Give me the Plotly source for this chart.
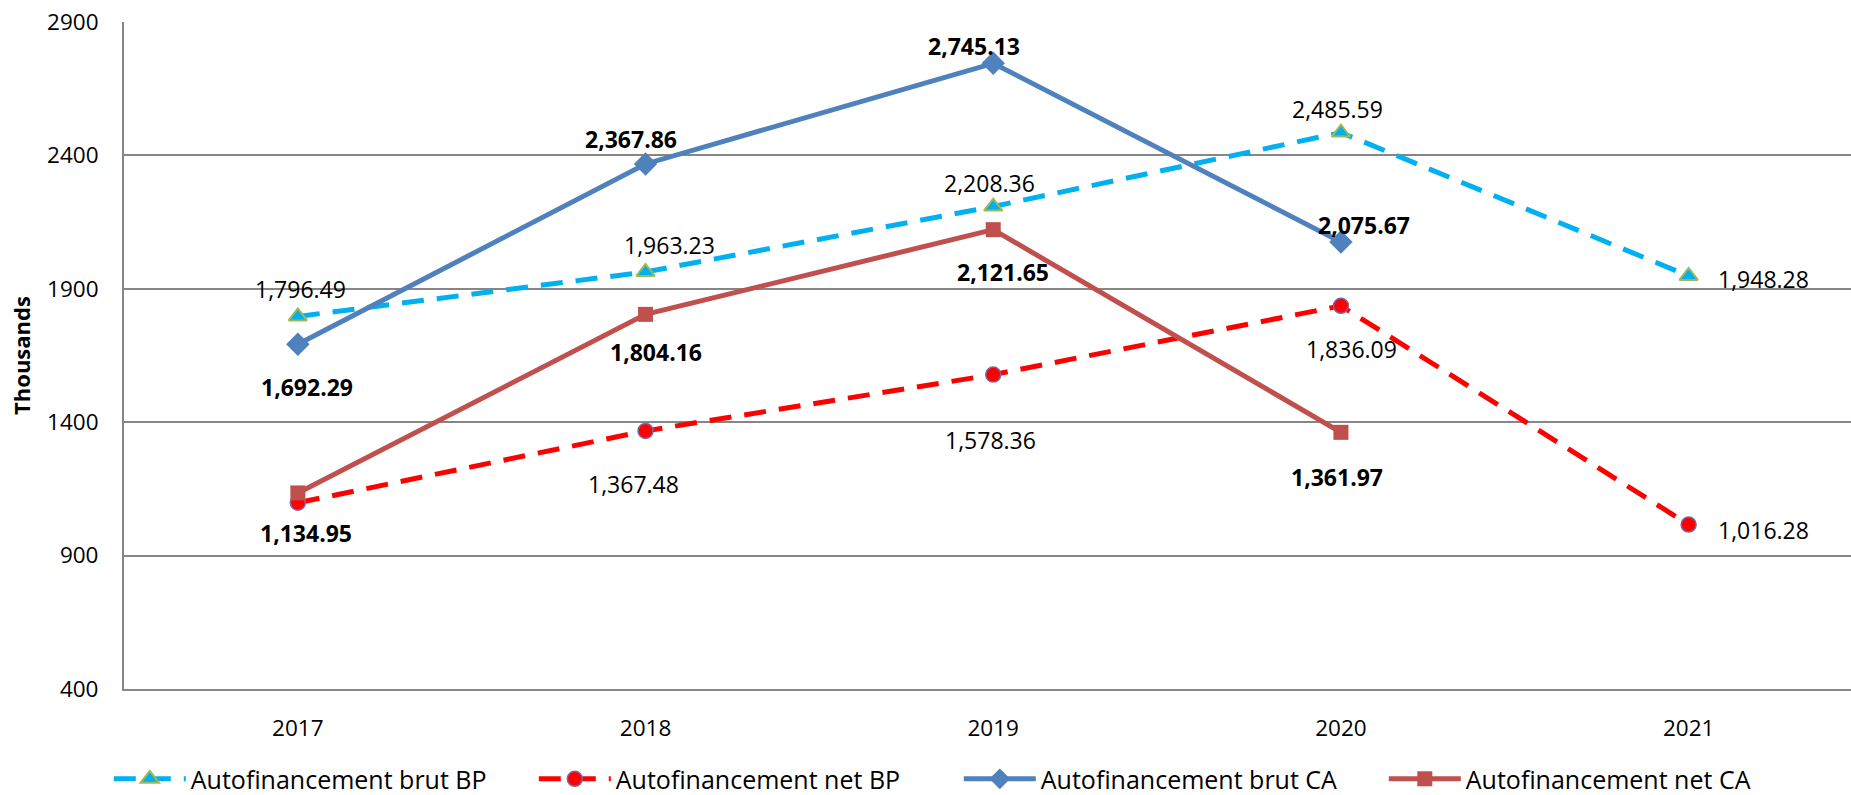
import plotly.graph_objects as go

years = ["2017", "2018", "2019", "2020", "2021"]
brut_bp = [1796.49, 1963.23, 2208.36, 2485.59, 1948.28]
net_bp = [1098.0, 1367.48, 1578.36, 1836.09, 1016.28]
brut_ca = [1692.29, 2367.86, 2745.13, 2075.67]
net_ca = [1134.95, 1804.16, 2121.65, 1361.97]
y_ticks = [400, 900, 1400, 1900, 2400, 2900]

names = ["Autofinancement brut BP", "Autofinancement net BP",
         "Autofinancement brut CA", "Autofinancement net CA"]

FONT = "Open Sans"

fig = go.Figure()
fig.add_trace(go.Scatter(
    x=years, y=brut_bp, name=names[0], mode="lines+markers",
    line=dict(color="#00B0F0", width=5, dash="22px,13px"),
    marker=dict(symbol="triangle-up", size=16, color="#00B0F0",
                line=dict(color="#9BBB59", width=2))))
fig.add_trace(go.Scatter(
    x=years, y=net_bp, name=names[1], mode="lines+markers",
    line=dict(color="#FF0000", width=5, dash="22px,13px"),
    marker=dict(symbol="circle", size=15, color="#FF0000",
                line=dict(color="#8064A2", width=1.5))))
fig.add_trace(go.Scatter(
    x=years[:4], y=brut_ca, name=names[2], mode="lines+markers",
    line=dict(color="#4F81BD", width=5),
    marker=dict(symbol="diamond", size=18, color="#4F81BD")))
fig.add_trace(go.Scatter(
    x=years[:4], y=net_ca, name=names[3], mode="lines+markers",
    line=dict(color="#C0504D", width=5),
    marker=dict(symbol="square", size=15, color="#C0504D")))

# label placement offsets (xshift, yshift, xanchor) per point
offs_brut_bp = [(3, 27, "center"), (24, 27, "center"), (-4, 24, "center"),
                (-3, 24, "center"), (27, -3, "left")]
offs_net_bp = [None, (-12, -53, "center"), (-3, -65, "center"),
               (11, -43, "center"), (27, -5, "left")]
offs_brut_ca = [(9, -43, "center"), (-15, 25, "center"), (-19, 17, "center"),
                (23, 17, "center")]
offs_net_ca = [(8, -40, "center"), (10, -38, "center"), (10, -42, "center"),
               (-4, -45, "center")]

annotations = []
for vals, offs, bold in [(brut_bp, offs_brut_bp, False), (net_bp, offs_net_bp, False),
                         (brut_ca, offs_brut_ca, True), (net_ca, offs_net_ca, True)]:
    for i, (v, o) in enumerate(zip(vals, offs)):
        if o is None:
            continue
        txt = f"{v:,.2f}"
        if bold:
            txt = f"<b>{txt}</b>"
        annotations.append(dict(
            x=i, y=v, xref="x", yref="y", text=txt, showarrow=False,
            xshift=o[0], yshift=o[1], xanchor=o[2], yanchor="middle",
            font=dict(family=FONT, size=23, color="black")))

fig.update_layout(
    width=1851, height=795,
    margin=dict(l=124, r=0, t=22, b=106, autoexpand=False),
    paper_bgcolor="white", plot_bgcolor="white",
    font=dict(family=FONT, color="black"),
    annotations=annotations,
    showlegend=True,
    hovermode=False,
    legend=dict(orientation="h", x=-0.0088, xanchor="left", y=-0.135, yanchor="middle",
                font=dict(family=FONT, size=25, color="black"),
                itemwidth=72, entrywidth=338, entrywidthmode="pixels",
                bgcolor="rgba(0,0,0,0)"),
    xaxis=dict(type="category", range=[-0.5, 4.467], showgrid=False,
               showline=True, linecolor="#868686", linewidth=2,
               ticks="", tickfont=dict(family=FONT, size=22.5, color="black"),
               ticklabelstandoff=18, zeroline=False, fixedrange=True),
    yaxis=dict(range=[400, 2900], tickvals=y_ticks, ticktext=[str(t) for t in y_ticks],
               showgrid=True, gridcolor="#868686", gridwidth=2,
               showline=True, linecolor="#868686", linewidth=2,
               ticks="", tickfont=dict(family=FONT, size=22.5, color="black"),
               ticklabelstandoff=19, zeroline=False, fixedrange=True,
               title=dict(text="<b>Thousands</b>", font=dict(family=FONT, size=22, color="black"),
                          standoff=10)),
)

fig.write_html("out.html", post_script="document.body.style.margin='0';",
               config={"displayModeBar": False})
